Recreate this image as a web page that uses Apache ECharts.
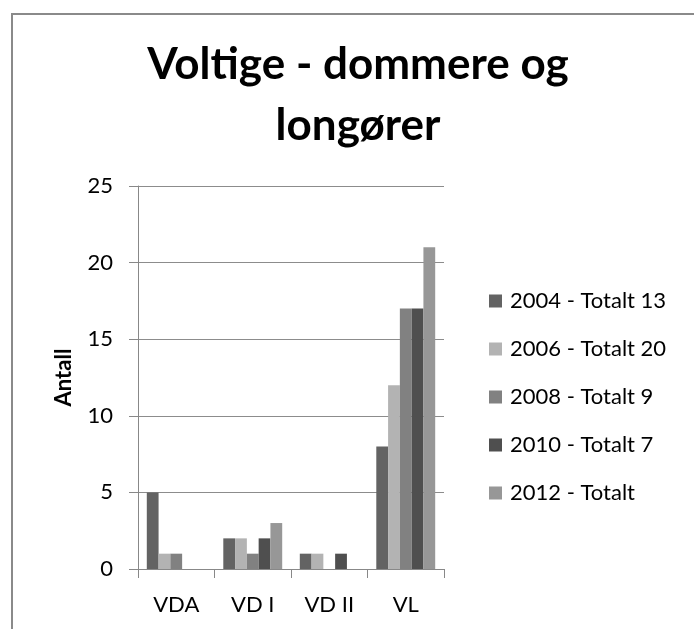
<!DOCTYPE html>
<html>
<head>
<meta charset="utf-8">
<script src="https://cdn.jsdelivr.net/npm/echarts@6/dist/echarts.min.js"></script>
<style>
  html, body { margin: 0; padding: 0; background: #fff; }
  #frame { position: absolute; left: 11px; top: 13px; width: 800px; height: 800px; border: 2px solid #8a8a8a; box-sizing: border-box; }
  #chart { position: absolute; left: 0; top: 0; width: 694px; height: 629px; }
</style>
</head>
<body>
<div id="frame"></div>
<div id="chart"></div>
<script>
const titleText = 'Voltige - dommere og\nlongører';
const yAxisName = 'Antall';
const categories = ['VDA', 'VD I', 'VD II', 'VL'];
const seriesNames = ['2004 - Totalt 13', '2006 - Totalt 20', '2008 - Totalt 9', '2010 - Totalt 7', '2012 - Totalt'];
const values2004 = [5, 2, 1, 8];
const values2006 = [1, 2, 1, 12];
const values2008 = [1, 1, 0, 17];
const values2010 = [0, 2, 1, 17];
const values2012 = [0, 3, 0, 21];
const seriesColors = ['#636363', '#b3b3b3', '#818181', '#4f4f4f', '#979797'];
const yMin = 0, yMax = 25, yStep = 5;

const allValues = [values2004, values2006, values2008, values2010, values2012];
const FONT = 'Lato, "Open Sans", sans-serif';

const chart = echarts.init(document.getElementById('chart'), null, { renderer: 'canvas' });
chart.setOption({
  backgroundColor: 'transparent',
  animation: false,
  title: {
    text: titleText,
    left: 353,
    top: 29,
    textAlign: 'center',
    textStyle: { fontFamily: FONT, fontWeight: 'bold', fontSize: 44, lineHeight: 61, color: '#000' }
  },
  legend: {
    orient: 'vertical',
    left: 484,
    top: 285,
    itemWidth: 13,
    itemHeight: 13,
    itemGap: 26,
    icon: 'rect',
    data: seriesNames,
    textStyle: { fontFamily: FONT, fontSize: 22, color: '#000', padding: [0, 0, 0, 3] }
  },
  grid: { left: 138, right: 250, top: 186, bottom: 60, containLabel: false },
  xAxis: {
    type: 'category',
    data: categories,
    axisLine: { lineStyle: { color: '#888', width: 1 } },
    axisTick: { show: true, length: 9, alignWithLabel: false, lineStyle: { color: '#888' } },
    axisLabel: { margin: 25, fontFamily: FONT, fontSize: 22, color: '#000' }
  },
  yAxis: {
    type: 'value',
    min: yMin, max: yMax, interval: yStep,
    name: yAxisName,
    nameLocation: 'middle',
    nameGap: 63,
    nameRotate: 90,
    nameTextStyle: { fontFamily: FONT, fontWeight: 'bold', fontSize: 22, color: '#000' },
    axisLine: { show: true, lineStyle: { color: '#888', width: 1 } },
    axisTick: { show: true, length: 9, lineStyle: { color: '#888' } },
    axisLabel: { margin: 25, fontFamily: FONT, fontSize: 22, color: '#000' },
    splitLine: { show: true, lineStyle: { color: '#8c8c8c', width: 1 } }
  },
  series: seriesNames.map((name, i) => ({
    name: name,
    type: 'bar',
    data: allValues[i],
    barGap: '0%',
    barCategoryGap: '23%',
    itemStyle: { color: seriesColors[i] }
  }))
});
</script>
</body>
</html>
